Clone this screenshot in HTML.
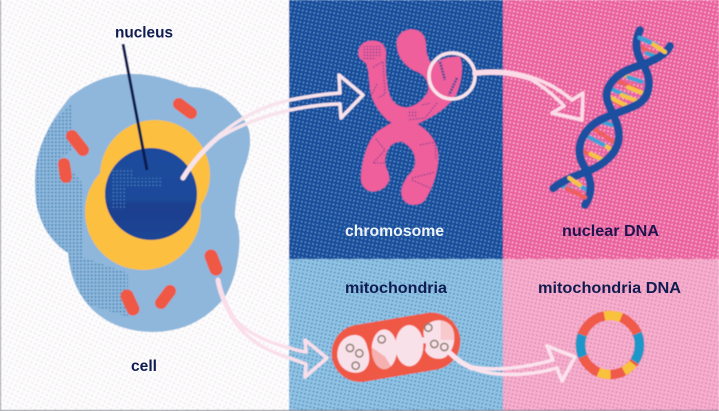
<!DOCTYPE html>
<html><head><meta charset="utf-8"><style>
html,body{margin:0;padding:0;background:#fff}svg{display:block}
text{font-family:"Liberation Sans",sans-serif;font-weight:700;font-size:16px}
</style></head><body>
<svg width="719" height="411" viewBox="0 0 719 411" xmlns="http://www.w3.org/2000/svg">
<defs>
<filter id="soft" filterUnits="userSpaceOnUse" x="-5" y="-5" width="729" height="421"><feGaussianBlur stdDeviation="0.45"/></filter>
<pattern id="pw" width="4.6" height="4.6" patternUnits="userSpaceOnUse" patternTransform="rotate(25)"><circle cx="2.3" cy="2.3" r=".9" fill="#e9e3e9"/></pattern>
<pattern id="pb" width="3.9" height="3.9" patternUnits="userSpaceOnUse" patternTransform="rotate(12)"><circle cx="1.95" cy="1.95" r=".8" fill="#6ea6d6"/></pattern>
<pattern id="pp" width="3.9" height="3.9" patternUnits="userSpaceOnUse" patternTransform="rotate(12)"><circle cx="1.95" cy="1.95" r=".85" fill="#fbcfe0"/></pattern>
<pattern id="plb" width="3.9" height="3.9" patternUnits="userSpaceOnUse" patternTransform="rotate(12)"><circle cx="1.95" cy="1.95" r=".85" fill="#3d7fb0"/></pattern>
<pattern id="plp" width="3.9" height="3.9" patternUnits="userSpaceOnUse" patternTransform="rotate(12)"><circle cx="1.95" cy="1.95" r=".8" fill="#c97aa4"/></pattern>
<pattern id="pc" width="3.6" height="3.6" patternUnits="userSpaceOnUse"><circle cx="1.8" cy="1.8" r="1" fill="#3a7fb0"/></pattern>
<pattern id="pn" width="3.6" height="3.6" patternUnits="userSpaceOnUse"><circle cx="1.8" cy="1.8" r=".8" fill="#4a86c0"/></pattern>
<pattern id="pd" width="3" height="3" patternUnits="userSpaceOnUse"><circle cx="1.5" cy="1.5" r=".7" fill="#5a3f90"/></pattern>
<pattern id="pr" width="2.6" height="2.6" patternUnits="userSpaceOnUse"><circle cx="1.3" cy="1.3" r=".9" fill="#ef5845"/></pattern>
<clipPath id="cellclip"><path d="M127,74C150,73 172,80 190,87C215,86 240,105 249,130C253,150 245,165 240,180C237,195 235,205 235,217C240,230 240,240 239,250C237,270 232,285 225,297C205,322 180,332 153,332C130,332 110,325 95,312C80,298 70,280 68,253C55,245 45,232 40,217C35,205 35,190 35,177C36,150 47,125 70,97C85,85 105,75 127,74Z"/></clipPath>
<clipPath id="nuc"><circle cx="151" cy="194" r="46"/></clipPath>
<linearGradient id="ng" x1="0" y1="0" x2="0" y2="1"><stop offset="0" stop-color="#1c4c9e"/><stop offset=".55" stop-color="#1b4a9a"/><stop offset=".62" stop-color="#1a3f8e"/><stop offset="1" stop-color="#1b4595"/></linearGradient>
</defs>
<g filter="url(#soft)">
<rect width="289" height="411" fill="#fdfcfd"/><rect width="289" height="411" fill="url(#pw)"/>
<rect x="289" width="214" height="259" fill="#184c9a"/><rect x="289" width="214" height="259" fill="url(#pb)"/>
<rect x="503" width="216" height="259" fill="#e95f9d"/><rect x="503" width="216" height="259" fill="url(#pp)"/>
<rect x="289" y="259" width="214" height="152" fill="#91c3e4"/><rect x="289" y="259" width="214" height="152" fill="url(#plb)"/>
<rect x="503" y="259" width="216" height="152" fill="#f8aecd"/><rect x="503" y="259" width="216" height="152" fill="url(#plp)"/>
<rect x="0" width="1" height="411" fill="#8d8d98"/><rect y="410" width="719" height="1" fill="#6f7080"/>

<!-- cell -->
<path d="M127,74C150,73 172,80 190,87C215,86 240,105 249,130C253,150 245,165 240,180C237,195 235,205 235,217C240,230 240,240 239,250C237,270 232,285 225,297C205,322 180,332 153,332C130,332 110,325 95,312C80,298 70,280 68,253C55,245 45,232 40,217C35,205 35,190 35,177C36,150 47,125 70,97C85,85 105,75 127,74Z" fill="#8fb7dc"/>
<g clip-path="url(#cellclip)"><path d="M72,103L72,150L62,157L82,183L82,257L128,273L128,317L83,303L68,257L35,217L30,173L43,133Z" fill="url(#pc)" opacity=".8"/></g>
<g stroke="#ef5845" stroke-linecap="round" fill="none">
<line x1="179" y1="104" x2="191" y2="113" stroke-width="12"/>
<line x1="72" y1="136" x2="83" y2="150" stroke-width="12"/>
<line x1="64" y1="164" x2="66" y2="177" stroke-width="12"/>
<line x1="211" y1="256" x2="216" y2="269" stroke-width="13"/>
<line x1="127" y1="296" x2="133" y2="309" stroke-width="13"/>
<line x1="161" y1="303" x2="170" y2="291" stroke-width="12"/>
</g>
<circle cx="155" cy="175" r="55" fill="#fdbf41"/><circle cx="143" cy="212" r="58" fill="#fdbf41"/>
<circle cx="151" cy="194" r="46" fill="url(#ng)"/>
<g clip-path="url(#nuc)"><path d="M112,168h22v10h28v8h-36v24h-16z" fill="url(#pn)"/></g>
<line x1="123" y1="44" x2="147" y2="170" stroke="#0c1a4f" stroke-width="3"/>

<!-- chromosome -->
<path transform="translate(290,0) scale(.3333)" fill="#ee5f9b" d="M205,160C205,135 225,122 248,122C275,122 290,140 288,165C285,200 290,240 295,270C300,300 320,322 350,322C380,320 410,290 415,268C415,245 405,225 380,215C345,200 320,170 320,130C320,105 340,88 365,88C392,88 408,108 408,135C408,165 420,190 430,195C445,178 475,170 510,170C520,195 518,240 500,280C480,320 430,350 382,372C420,395 445,430 445,470C445,520 425,570 405,600C390,620 350,620 338,595C325,570 345,535 365,515C385,490 378,445 335,425C300,425 285,455 285,490C290,510 300,525 298,540C290,565 265,575 245,575C220,570 210,550 213,525C218,470 235,420 262,395C275,385 295,375 305,368C280,355 255,320 245,290C235,250 240,220 228,190C215,178 205,175 205,160Z"/>
<path d="M362,46h20v10h-6v4h-14zM407,110h11v8h-11z" fill="url(#pd)"/>
<g fill="none" stroke="#5a3f90" stroke-width="1" stroke-dasharray="1.5 1.5">
<path d="M382,62L372,68M383,62L385,94L378,98M377,84L370,98"/>
<path d="M437,103L425,118L408,120M422,105L431,103"/>
<path d="M376,139L385,150L373,163L388,163M420,145L435,142L436,160M412,178L435,172M412,180L430,188"/>
</g>
<g fill="none" stroke="#3f4a96" stroke-width="2.5" stroke-dasharray="2 1">
<path d="M440,62L445,80M457,78L449,95"/>
</g>
<circle cx="452" cy="76" r="23" fill="none" stroke="#f8e3ec" stroke-width="3.5"/>

<!-- arrow 1 -->
<g fill="none" stroke="#f7e3ec" stroke-width="3.5" stroke-linecap="round" stroke-linejoin="round">
<path d="M183,178C192,163 205,148 222,134" stroke-width="5"/>
<path d="M215,140C235,120 262,106 290,100C310,96 325,94 340,93"/>
<path d="M215,140C240,124 265,116 290,110C310,106 325,104 340,104"/>
<path d="M340,93L339,75L363,95L341,118L340,104"/>
</g>
<!-- arrow 4 -->
<g fill="none" stroke="#fadfea" stroke-width="3.5" stroke-linecap="round" stroke-linejoin="round">
<path d="M218,280C220,292 225,304 232,316" stroke-width="5"/>
<path d="M228,310C240,330 265,342 290,348C295,350 300,351 306,352"/>
<path d="M228,310C240,335 262,350 290,358C295,360 300,362 306,364"/>
<path d="M306,352L305,340L327,358L305,377L306,364"/>
</g>

<!-- arrow 2 -->
<g fill="none" stroke="#fbdbe8" stroke-width="3.5" stroke-linecap="round" stroke-linejoin="round">
<path d="M475,73C495,71 510,72 530,78" stroke-width="5.5"/>
<path d="M525,76C545,80 560,90 572,100"/>
<path d="M525,76C540,84 553,94 564,106"/>
<path d="M572,100L583,93L582,120L552,113L564,106"/>
</g>

<!-- DNA -->
<g transform="translate(500,0) scale(.3333)" fill="none" stroke-linecap="round">
<g stroke-width="13">
<line x1="415" y1="110" x2="470" y2="135" stroke="#3fa0d8"/>
<line x1="420" y1="140" x2="465" y2="165" stroke="#ef5f5f"/>
<line x1="440" y1="160" x2="475" y2="172" stroke="#3fa0d8"/>
<line x1="455" y1="130" x2="500" y2="158" stroke="#f7c244"/>
<line x1="362" y1="220" x2="405" y2="238" stroke="#f7c244"/>
<line x1="385" y1="232" x2="425" y2="245" stroke="#3fa0d8"/>
<line x1="340" y1="237" x2="410" y2="268" stroke="#ef5f5f"/>
<line x1="385" y1="262" x2="430" y2="280" stroke="#f7c244"/>
<line x1="330" y1="265" x2="385" y2="290" stroke="#3fa0d8"/>
<line x1="345" y1="305" x2="380" y2="322" stroke="#ef5f5f"/>
<line x1="365" y1="285" x2="415" y2="305" stroke="#f7c244"/>
<line x1="330" y1="292" x2="385" y2="320" stroke="#f7c244"/>
<line x1="290" y1="360" x2="335" y2="375" stroke="#3fa0d8"/>
<line x1="270" y1="378" x2="340" y2="425" stroke="#ef5f5f"/>
<line x1="255" y1="405" x2="320" y2="440" stroke="#3fa0d8"/>
<line x1="320" y1="440" x2="345" y2="455" stroke="#f7c244"/>
<line x1="245" y1="452" x2="275" y2="465" stroke="#ef5f5f"/>
<line x1="272" y1="462" x2="310" y2="480" stroke="#f7c244"/>
<line x1="205" y1="532" x2="245" y2="560" stroke="#f7c244"/>
<line x1="175" y1="552" x2="215" y2="570" stroke="#3fa0d8"/>
<line x1="235" y1="555" x2="265" y2="572" stroke="#3fa0d8"/>
<line x1="200" y1="565" x2="260" y2="595" stroke="#ef5f5f"/>
</g>
<g stroke="#1f4f9f" stroke-width="24">
<path d="M420,90C400,130 410,165 430,195C455,235 455,290 410,315C370,335 340,340 300,360C240,395 225,450 250,495C270,530 285,570 255,615"/>
<path d="M510,138C495,170 450,185 425,195C345,215 305,265 325,310C335,340 365,380 355,425C345,470 300,500 260,515C220,530 180,545 160,565"/>
</g>
<g stroke-width="13">
<line x1="418" y1="113" x2="450" y2="128" stroke="#3fa0d8"/>
<line x1="470" y1="140" x2="495" y2="156" stroke="#f7c244"/>
<line x1="208" y1="534" x2="240" y2="556" stroke="#f7c244"/>
<line x1="205" y1="568" x2="255" y2="592" stroke="#ef5f5f"/>
</g>
</g>

<!-- mitochondria -->
<g transform="translate(290,260) scale(.3333)">
<line x1="211" y1="280" x2="425" y2="244" stroke="#ef5845" stroke-width="172" stroke-linecap="round"/>
<g fill="#f9e1ea">
<path d="M142,290C140,250 165,225 195,225C215,225 228,240 232,262C240,285 242,310 225,328C205,348 150,340 142,290Z"/>
<ellipse cx="283" cy="268" rx="38" ry="60"/>
<ellipse cx="358" cy="257" rx="42" ry="62"/>
<path d="M402,205C420,175 470,170 488,205C500,235 490,275 465,292C445,302 415,295 405,270C415,245 395,235 402,205Z"/>
<rect x="300" y="252" width="40" height="20"/>
<rect x="380" y="232" width="36" height="18"/>
</g>
<path d="M232,262L262,350L310,330L285,290L250,265Z" fill="url(#pr)"/>
<path d="M452,180h42v60h-42z" fill="url(#pr)" opacity=".5"/>
<g fill="none" stroke="#8a7a6a" stroke-width="4.5">
<circle cx="180" cy="264" r="11"/><circle cx="208" cy="280" r="11"/><circle cx="197" cy="317" r="11"/><circle cx="275" cy="238" r="11"/><circle cx="415" cy="203" r="11"/><circle cx="433" cy="252" r="11"/><circle cx="463" cy="261" r="11"/>
</g>
</g>

<!-- arrow 3 -->
<g fill="none" stroke="#fbe3ee" stroke-width="3.5" stroke-linecap="round" stroke-linejoin="round">
<path d="M450,353C456,359 463,364 472,368" stroke-width="5"/>
<path d="M468,366C490,372 525,368 553,360"/>
<path d="M468,366C490,378 530,376 557,368"/>
<path d="M553,360L547,346L575,357L562,381L557,368"/>
</g>

<!-- ring -->
<g transform="translate(610,345)" fill="none" stroke-width="9.5">
<circle r="29.5" stroke="#ef5a4a"/>
<circle r="29.5" pathLength="360" stroke="#1f97c9" stroke-dasharray="57 303" stroke-dashoffset="-337"/>
<circle r="29.5" pathLength="360" stroke="#1f97c9" stroke-dasharray="43 317" stroke-dashoffset="-157"/>
<circle r="29.5" pathLength="360" stroke="#f9c23c" stroke-dasharray="33 327" stroke-dashoffset="-259"/>
<circle r="29.5" pathLength="360" stroke="#f9c23c" stroke-dasharray="24 336" stroke-dashoffset="-89"/>
<circle r="29.5" pathLength="360" stroke="#f9c23c" stroke-dasharray="23 337" stroke-dashoffset="-39"/>
</g>
</g>

<!-- labels -->
<text x="115" y="37.5" textLength="58" lengthAdjust="spacingAndGlyphs" fill="#101c50">nucleus</text>
<text x="131" y="371" textLength="26" lengthAdjust="spacingAndGlyphs" fill="#101c50">cell</text>
<text x="345" y="236" textLength="99" lengthAdjust="spacingAndGlyphs" fill="#eef3f8">chromosome</text>
<text x="562" y="236" textLength="97" lengthAdjust="spacingAndGlyphs" fill="#1e1550">nuclear DNA</text>
<text x="345" y="293" textLength="102" lengthAdjust="spacingAndGlyphs" fill="#101c50">mitochondria</text>
<text x="538" y="293" textLength="143" lengthAdjust="spacingAndGlyphs" fill="#101c50">mitochondria DNA</text>
</svg>
</body></html>
